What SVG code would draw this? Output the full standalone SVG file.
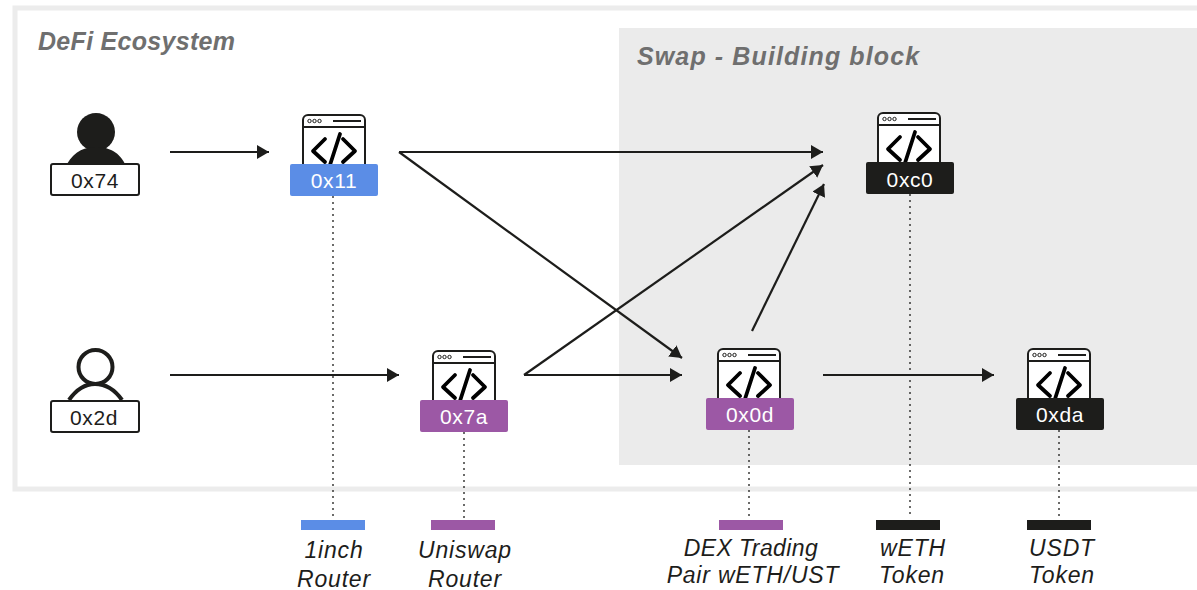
<svg xmlns="http://www.w3.org/2000/svg" width="1197" height="590" viewBox="0 0 1197 590">
<defs>
<marker id="arr" markerUnits="userSpaceOnUse" markerWidth="13" markerHeight="15" refX="12" refY="7" orient="auto"><path d="M0 0L12 7L0 14Z" fill="#1d1d1b"/></marker>
<g id="win">
<rect x="-31" y="-37" width="62" height="70" rx="5" fill="#fff" stroke="#1d1d1b" stroke-width="2"/>
<path d="M-31 -25H31" stroke="#1d1d1b" stroke-width="2"/>
<circle cx="-24.500" cy="-31" r="1.700" fill="none" stroke="#1d1d1b"/><circle cx="-19.500" cy="-31" r="1.700" fill="none" stroke="#1d1d1b"/><circle cx="-14.500" cy="-31" r="1.700" fill="none" stroke="#1d1d1b"/>
<path d="M-1 -31H27" stroke="#1d1d1b" stroke-width="2"/>
<path d="M-9 -13L-21 -1L-9 10M9 -13L21 -1L9 10M6 -18L-5 16" fill="none" stroke="#000" stroke-width="3.800" stroke-linecap="round" stroke-linejoin="round"/>
</g>
</defs>
<style>
text{font-family:"Liberation Sans",Arial,sans-serif}
.id{font-size:21px;letter-spacing:.6px;text-anchor:middle;fill:#1d1d1b}
.w{fill:#fff}
.cap{font-size:23px;letter-spacing:.8px;font-style:italic;text-anchor:middle;fill:#1d1d1b}
.title{font-size:25px;font-style:italic;font-weight:bold;fill:#6f6f6f}
.lbl{stroke:#1d1d1b;stroke-width:2;fill:#fff}
.c{fill:none;stroke:#1d1d1b;stroke-width:2.200;marker-end:url(#arr)}
.d{fill:none;stroke:#1d1d1b;stroke-width:1.300;stroke-dasharray:2 4}
</style>
<rect x="15" y="8" width="1190" height="481" fill="#fff" stroke="#ececec" stroke-width="5"/>
<rect x="619" y="28" width="578" height="437" fill="#ebebeb"/>
<text class="title" x="38" y="50" letter-spacing=".3">DeFi Ecosystem</text>
<text class="title" x="637" y="65" letter-spacing="1.120">Swap - Building block</text>
<g id="dotted">
<path class="d" d="M333 196V518M464 432V518M749 430V518M910 194V518M1059 430V518"/>
</g>
<g id="connectors">
<path class="c" d="M170 152H269"/>
<path class="c" d="M399 152H823"/>
<path class="c" d="M399 152L682 358"/>
<path class="c" d="M170 375H399"/>
<path class="c" d="M524 375H682"/>
<path class="c" d="M524 375L823 165"/>
<path class="c" d="M752 331L824 184"/>
<path class="c" d="M823 375H994"/>
</g>
<g id="user-0x74">
<circle cx="96" cy="132" r="19" fill="#1d1d1b"/>
<path d="M67 164C75 150 86 147 96 147S118 150 125 164Z" fill="#1d1d1b"/>
<rect class="lbl" x="51" y="164" width="88" height="31" rx="2"/>
<text class="id" x="95" y="188">0x74</text>
</g>
<g id="user-0x2d">
<circle cx="95.500" cy="367" r="17" fill="#fff" stroke="#1d1d1b" stroke-width="4"/>
<path d="M69 400C76 390 84 384 95 384S115 390 122 400" fill="none" stroke="#1d1d1b" stroke-width="4"/>
<rect class="lbl" x="51" y="401" width="88" height="31" rx="2"/>
<text class="id" x="94" y="425">0x2d</text>
</g>
<g id="node-0x11">
<use href="#win" x="334" y="152"/>
<rect x="290" y="164" width="88" height="32" rx="2" fill="#5b8de6"/>
<text class="id w" x="334" y="188">0x11</text>
</g>
<g id="node-0x7a">
<use href="#win" x="464" y="388"/>
<rect x="420" y="400" width="88" height="32" rx="2" fill="#9c58a5"/>
<text class="id w" x="464" y="424">0x7a</text>
</g>
<g id="node-0xc0">
<use href="#win" x="909" y="150"/>
<rect x="866" y="162" width="88" height="32" rx="2" fill="#1d1d1b"/>
<text class="id w" x="910" y="187">0xc0</text>
</g>
<g id="node-0x0d">
<use href="#win" x="749" y="386"/>
<rect x="706" y="398" width="88" height="32" rx="2" fill="#9c58a5"/>
<text class="id w" x="750" y="422">0x0d</text>
</g>
<g id="node-0xda">
<use href="#win" x="1059" y="386"/>
<rect x="1016" y="398" width="88" height="32" rx="2" fill="#1d1d1b"/>
<text class="id w" x="1060" y="422">0xda</text>
</g>
<g id="legend">
<rect x="301" y="520" width="64" height="10" fill="#5b8de6"/>
<rect x="431" y="520" width="64" height="10" fill="#9c58a5"/>
<rect x="719" y="520" width="64" height="10" fill="#9c58a5"/>
<rect x="876" y="520" width="64" height="10" fill="#1d1d1b"/>
<rect x="1027" y="520" width="64" height="10" fill="#1d1d1b"/>
<text class="cap" x="334" y="558">1inch</text><text class="cap" x="334" y="587">Router</text>
<text class="cap" x="465" y="558">Uniswap</text><text class="cap" x="465" y="587">Router</text>
<text class="cap" x="751" y="556" style="letter-spacing:.4px">DEX Trading</text><text class="cap" x="753" y="583">Pair wETH/UST</text>
<text class="cap" x="913" y="556">wETH</text><text class="cap" x="912" y="583">Token</text>
<text class="cap" x="1062" y="556">USDT</text><text class="cap" x="1062" y="583">Token</text>
</g>
</svg>
